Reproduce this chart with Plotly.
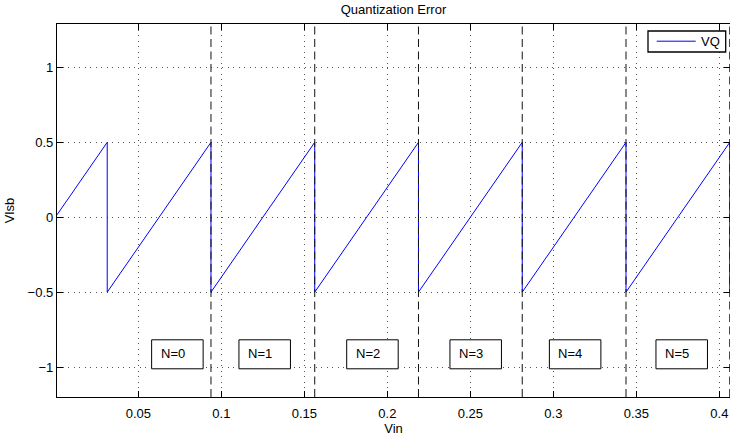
import plotly.graph_objects as go

# Quantization error of a uniform quantizer (LSB = 1/16), vertices of the sawtooth
vin = [0.001, 0.03125, 0.03125, 0.09375, 0.09375, 0.15625, 0.15625,
       0.21875, 0.21875, 0.28125, 0.28125, 0.34375, 0.34375,
       0.40625, 0.40625, 0.4064]
vq = [0.016, 0.5, -0.5, 0.5, -0.5, 0.5, -0.5,
      0.5, -0.5, 0.5, -0.5, 0.5, -0.5,
      0.5, -0.5, -0.4976]

# Code transition boundaries (dashed markers)
boundary_vin = [0.09375, 0.15625, 0.21875, 0.28125, 0.34375, 0.40625]

# Segment labels
segment_labels = ["N=0", "N=1", "N=2", "N=3", "N=4", "N=5"]
label_vin = [0.0580, 0.1106, 0.1755, 0.2377, 0.2976, 0.3618]
label_level = -0.915

# Axis ticks
x_ticks = [0.05, 0.1, 0.15, 0.2, 0.25, 0.3, 0.35, 0.4]
x_ticktext = ["0.05", "0.1", "0.15", "0.2", "0.25", "0.3", "0.35", "0.4"]
y_ticks = [-1, -0.5, 0, 0.5, 1]
y_ticktext = ["\u22121", "\u22120.5", "0", "0.5", "1"]

FONT = "Liberation Sans, Arial, Helvetica, sans-serif"
LINE_COLOR = "#0000ff"
SERIES_NAME = "VQ"

# Plot-area geometry in pixels (used to place the key box)
W, H = 730, 436
ML, MR, MT, MB = 57, 0, 24, 39
PW, PH = W - ML - MR, H - MT - MB


def px_x(p):
    return (p - ML) / PW


def px_y(p):
    return (H - MB - p) / PH


fig = go.Figure()
fig.add_trace(go.Scatter(
    x=vin, y=vq, mode="lines", name=SERIES_NAME, showlegend=False,
    line=dict(color=LINE_COLOR, width=1),
))

shapes = []
for xb in boundary_vin:
    shapes.append(dict(
        type="line", xref="x", yref="y domain", x0=xb, x1=xb, y0=0, y1=1,
        line=dict(color="#111111", width=1, dash="8px,4.5px"), layer="above",
    ))

annotations = []
for txt, xl in zip(segment_labels, label_vin):
    shapes.append(dict(
        type="rect", xref="x", yref="y", xsizemode="pixel", ysizemode="pixel",
        xanchor=xl, x0=0, x1=51.5, yanchor=label_level, y0=-14.5, y1=14.5,
        line=dict(color="#000000", width=1), fillcolor="white", layer="above",
    ))
    annotations.append(dict(
        x=xl, y=label_level, xref="x", yref="y", text=txt, showarrow=False,
        xanchor="left", yanchor="middle", xshift=7, yshift=1,
        font=dict(family=FONT, size=13, color="black"),
    ))

# Key box in the upper-right corner
shapes.append(dict(
    type="rect", xref="paper", yref="paper",
    x0=px_x(648), x1=px_x(725.7), y0=px_y(52), y1=px_y(31),
    line=dict(color="black", width=1.3), fillcolor="white", layer="above",
))
shapes.append(dict(
    type="line", xref="paper", yref="paper",
    x0=px_x(656.7), x1=px_x(695.7), y0=px_y(41.2), y1=px_y(41.2),
    line=dict(color=LINE_COLOR, width=1), layer="above",
))
annotations.append(dict(
    x=px_x(699), y=px_y(41.5), xref="paper", yref="paper", text=SERIES_NAME,
    showarrow=False, xanchor="left", yanchor="middle",
    font=dict(family=FONT, size=13, color="black"),
))

axis_common = dict(
    showline=True, linecolor="black", linewidth=1.3, mirror="allticks",
    ticks="inside", ticklen=6, tickwidth=1, tickcolor="black",
    showgrid=True, gridcolor="#555555", gridwidth=1, griddash="1px,4.5px",
    zeroline=False, tickfont=dict(family=FONT, size=13, color="black"),
)

fig.update_layout(
    width=W, height=H,
    margin=dict(l=ML, r=MR, t=MT, b=MB),
    paper_bgcolor="white", plot_bgcolor="white",
    font=dict(family=FONT, size=13, color="black"),
    title=dict(text="Quantization Error", x=0.5, xref="paper",
               y=1 - 9 / H, yref="container", yanchor="middle",
               xanchor="center", font=dict(family=FONT, size=13)),
    xaxis=dict(range=[0.001, 0.4064], tickvals=x_ticks, ticktext=x_ticktext,
               title=dict(text="Vin", standoff=0, font=dict(size=13)),
               ticklabelstandoff=4, **axis_common),
    yaxis=dict(range=[-1.2, 1.29], tickvals=y_ticks, ticktext=y_ticktext,
               title=dict(text="Vlsb", standoff=10, font=dict(size=13)),
               **axis_common),
    showlegend=False,
    shapes=shapes, annotations=annotations,
)

fig.write_html("out.html")
